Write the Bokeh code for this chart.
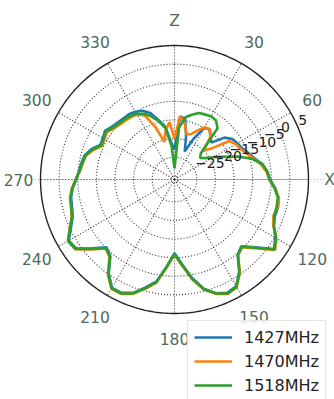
import numpy as np
from bokeh.plotting import figure
from bokeh.models import Legend, LegendItem
from bokeh.embed import file_html
from bokeh.resources import INLINE
from bokeh.core.properties import value

# ---------------- data ----------------
angles_deg = list(range(0, 360, 5))

gain_1427 = [-23, -14, -14.5, -19, -23, -19, -15, -14.5, -16, -17, -13.5, -12,
             -11.5, -11, -10, -8.8, -7.2, -6, -5.3, -3.8, -2.6, -2.2, -2.3, -1.6,
             0.3, 1.6, -2.7, -5.6, -4.6, -0.7, 2.1, 2.6, 1.5, -0.6, -4.2, -8.2,
             -11.2, -7.6, -3.2, -1, 1.4, 2.6, 2.6, -0.2, -4.2, -5.2, -2.2, 1.3,
             1.8, -0.3, -1.9, -2.5, -2.8, -3.5, -4.6, -5.2, -5.6, -6.0, -7.2, -9.0,
             -8.8, -8.2, -9.0, -9.4, -9.6, -9.6, -10.0, -10.6, -12.0, -14.5, -16.5, -21]

gain_1470 = [-20, -14, -15.5, -18.5, -18, -16.5, -14.8, -14.5, -16, -20, -18, -13,
             -12, -11.5, -10.5, -9, -7.5, -6.2, -5.5, -3.9, -2.5, -2.3, -2.7, -1.7,
             0.6, 2.0, -2.2, -5.3, -4.4, -0.4, 2.4, 2.9, 1.7, -0.4, -3.8, -7.8,
             -10.8, -7.3, -2.8, -0.6, 1.7, 2.9, 2.9, 0.2, -3.8, -4.8, -1.8, 1.6,
             2.1, 0.1, -1.6, -2.2, -2.5, -3.3, -4.4, -5.5, -6.0, -6.4, -7.8, -9.6,
             -9.3, -8.8, -9.7, -10.2, -10.4, -10.6, -10.8, -12.0, -16.0, -20.5, -17.5, -15.5]

gain_1518 = [-28, -17, -14, -13, -12, -11.7, -11.4, -11.6, -13, -21, -22, -21,
             -19, -16.5, -13, -9.5, -7, -6, -5.5, -4, -2.8, -2.6, -2.5, -1.5,
             0.5, 1.8, -2.5, -5.5, -4.5, -0.5, 2.3, 2.8, 1.6, -0.5, -4, -8,
             -11, -7.5, -3, -0.8, 1.6, 2.8, 2.8, 0, -4, -5, -2, 1.5,
             2, 0, -1.7, -2.3, -2.6, -3.4, -4.5, -5.4, -5.8, -6.2, -7.5, -9.3,
             -9, -8.5, -9.4, -9.8, -10, -10.2, -10.6, -11.5, -13, -14.8, -17, -22]

series_labels = ["1427MHz", "1470MHz", "1518MHz"]
series_colors = ["#1f77b4", "#ff7f0e", "#2ca02c"]

angle_ticks = [0, 30, 60, 90, 120, 150, 180, 210, 240, 270, 300, 330]
angle_tick_labels = ["Z", "30", "60", "X", "120", "150", "180", "210", "240", "270", "300", "330"]
radial_ticks = [-30, -25, -20, -15, -10, -5, 0]
radial_label_ticks = [-25, -20, -15, -10, -5, 0, 5]
radial_tick_labels = ["\u221225", "\u221220", "\u221215", "\u221210", "\u22125", "0", "5"]
R_MIN, R_MAX = -31, 5

# ---------------- helpers ----------------
def to_xy(theta_deg, gain):
    th = np.radians(np.asarray(theta_deg, dtype=float))
    r = np.asarray(gain, dtype=float) - R_MIN
    return r * np.sin(th), r * np.cos(th)

scale = 134.0 / (R_MAX - R_MIN)      # px per dB
W, H = 334, 399
cx, cy = 174, 179                     # centre of the polar area (px)

p = figure(width=W, height=H, output_backend="svg", toolbar_location=None,
           x_range=(-cx / scale, (W - cx) / scale),
           y_range=(-(H - cy) / scale, cy / scale),
           x_axis_type=None, y_axis_type=None, min_border=0)
p.outline_line_color = None
p.grid.visible = False
p.background_fill_color = "white"

# horizontal light-green reference line
p.line([-37.5, 40.5], [0, 0], line_color="#8fc98f", line_width=1.2, line_dash="1 2")

# dotted rings
full = np.linspace(0, 360, 361)
for rt in radial_ticks:
    x, y = to_xy(full, [rt] * len(full))
    p.line(x, y, line_color="#333333", line_width=1.1, line_dash="1 2")

# dotted spokes
for a in angle_ticks:
    x, y = to_xy([a, a], [R_MIN, R_MAX])
    p.line(x, y, line_color="#333333", line_width=1.1, line_dash="1 2")

# outer circle
x, y = to_xy(full, [R_MAX] * len(full))
p.line(x, y, line_color="#222222", line_width=1.4)

# series
renderers = []
for gains, col in zip([gain_1427, gain_1470, gain_1518], series_colors):
    x, y = to_xy(angles_deg + [angles_deg[0]], gains + [gains[0]])
    r = p.line(x, y, line_color=col, line_width=2.6)
    renderers.append(r)

# angular labels
lab_r = [R_MAX + 25 / scale] * len(angle_ticks)
lab_r[3] = R_MAX + 21 / scale      # keep "X" on the page
lab_r[9] = R_MAX + 22 / scale      # "270"
lx, ly = to_xy(angle_ticks, lab_r)
p.text(x=lx, y=ly, text=angle_tick_labels, text_align="center", text_baseline="middle",
       text_font=value("DejaVu Sans"), text_font_size="15.5px", text_color="#4e6a5c")

# radial labels
rx, ry = to_xy([67.5] * len(radial_label_ticks), radial_label_ticks)
p.text(x=rx, y=ry, text=radial_tick_labels, text_align="left", text_baseline="bottom",
       y_offset=-3, text_font=value("DejaVu Sans"), text_font_size="14px", text_color="#222222")

legend = Legend(items=[LegendItem(label=lab, renderers=[r]) for lab, r in zip(series_labels, renderers)],
                location=(187, -3), label_text_font="DejaVu Sans",
                label_text_font_size="16px", label_text_color="#222222",
                glyph_width=38, glyph_height=20, label_standoff=12, label_height=20,
                spacing=4, padding=6, margin=0,
                background_fill_color="white", background_fill_alpha=0.85,
                border_line_color="#cccccc", border_line_width=1)
p.add_layout(legend)

open("out.html", "w").write(file_html(p, INLINE))
